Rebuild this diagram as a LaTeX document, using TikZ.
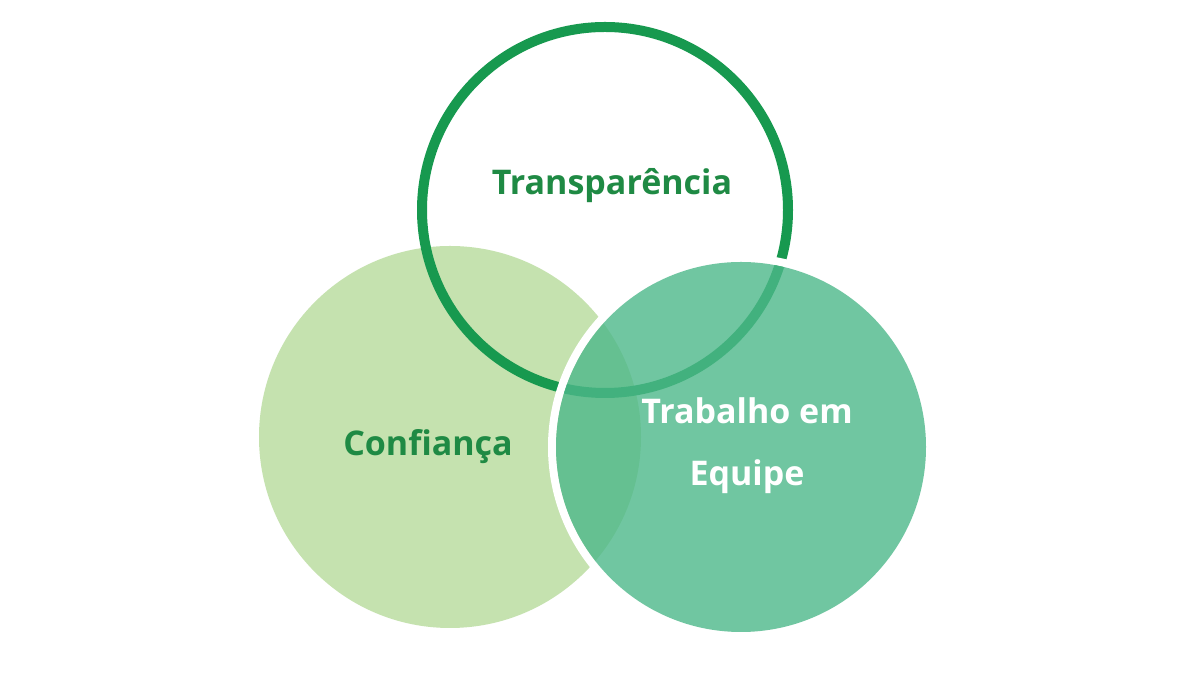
\documentclass[tikz,border=0pt]{standalone}
\usepackage{fontspec}
\setmainfont{Open Sans}
\definecolor{ring}{HTML}{17994F}
\definecolor{lightg}{HTML}{C5E2AF}
\definecolor{teal}{HTML}{4DB88A}
\definecolor{txt}{HTML}{1F8A44}
\tikzset{lbl/.style={font=\fontsize{34}{62}\selectfont\bfseries, align=center}}
\begin{document}
\begin{tikzpicture}[x=1pt,y=1pt]
\useasboundingbox (0,0) rectangle (1200,676);
\fill[white] (0,0) rectangle (1200,676);
\fill[lightg] (450,239) circle (191);
\draw[ring, line width=10] (605,466) circle (183);
\draw[white, line width=8] (741,229) circle (189);
\fill[teal, fill opacity=0.8] (741,229) circle (185);
\node[lbl, text=txt] (t) at (612,490) {Transparência};
\node[lbl, text=txt] (c) at (428,229) {Confiança};
\node[lbl, text=white] (w) at (747,230) {Trabalho em\\Equipe};
\end{tikzpicture}
\end{document}
